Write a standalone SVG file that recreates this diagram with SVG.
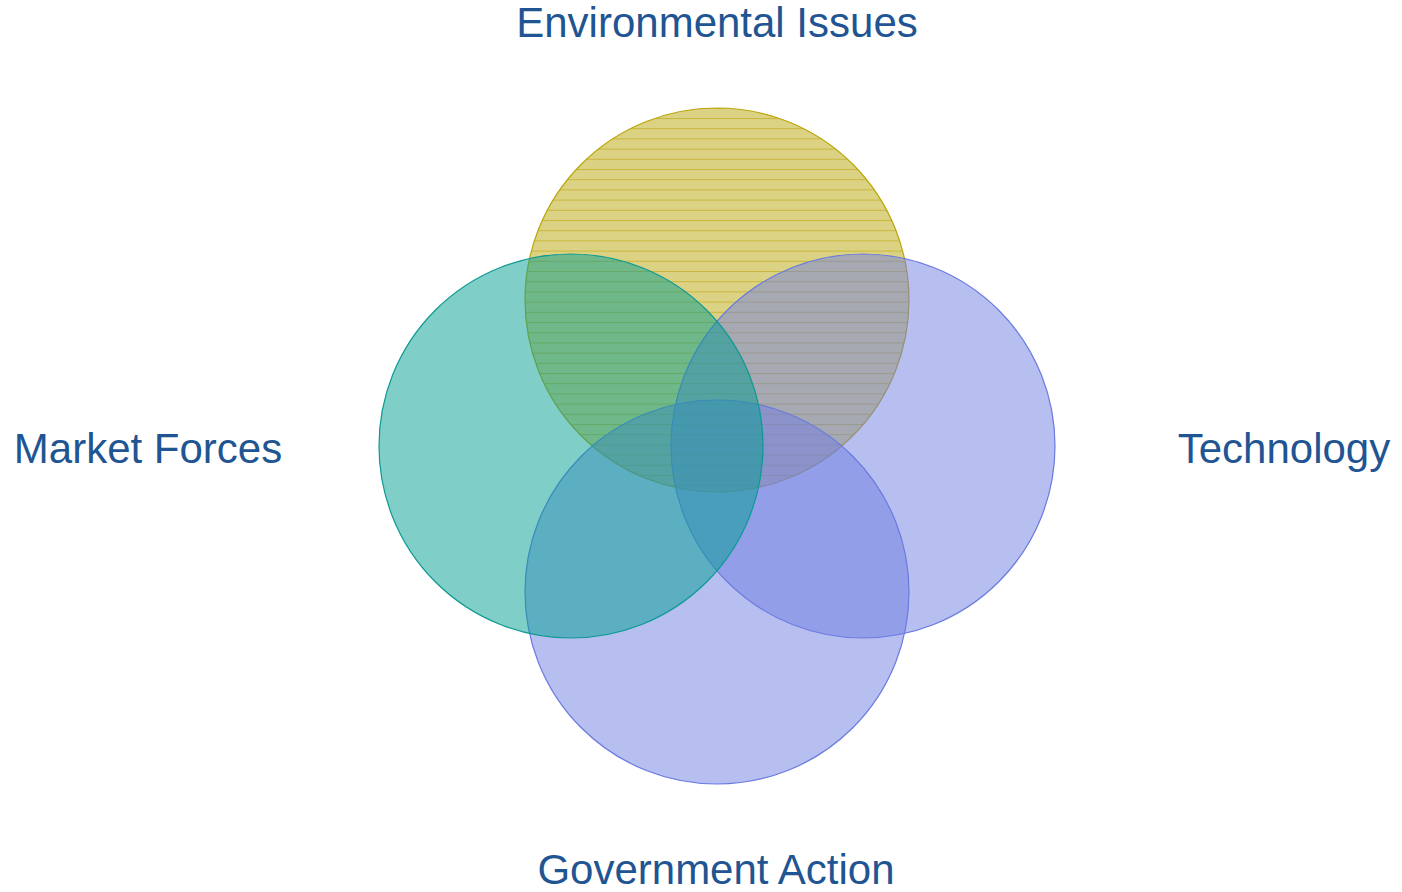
<svg xmlns="http://www.w3.org/2000/svg" width="1402" height="892" viewBox="0 0 1402 892">
<style>
.lbl{font-family:"Liberation Sans",Arial,sans-serif;font-size:42px;fill:#1F5592;text-anchor:middle}
.c{stroke-width:1.2}
.y{fill:url(#hatch);stroke:#BBA50A}
.t{fill:#019D91;fill-opacity:0.5;stroke:#0E9A93}
.b{fill:#6F7DE1;fill-opacity:0.5;stroke:#6A7BE0}
</style>
<defs>
<pattern id="hatch" patternUnits="userSpaceOnUse" x="0" y="118" width="10" height="10.2">
<rect width="10" height="10.2" fill="#B9A507" fill-opacity="0.5"/>
<line x1="0" y1="0.5" x2="10" y2="0.5" stroke="#B9A507" stroke-opacity="0.6" stroke-width="1"/>
</pattern>
</defs>
<rect width="1402" height="892" fill="#FFFFFF"/>
<g id="environmental">
<circle class="c y" cx="717" cy="300" r="192"/>
</g>
<g id="technology">
<circle class="c b" cx="863" cy="446" r="192"/>
</g>
<g id="government">
<circle class="c b" cx="717" cy="592" r="192"/>
</g>
<g id="market">
<circle class="c t" cx="571" cy="446" r="192"/>
</g>
<g id="connectors"></g>
<g id="labels">
<text class="lbl" x="717" y="37">Environmental Issues</text>
<text class="lbl" x="148" y="463">Market Forces</text>
<text class="lbl" x="1284" y="463">Technology</text>
<text class="lbl" x="716" y="884">Government Action</text>
</g>
</svg>
